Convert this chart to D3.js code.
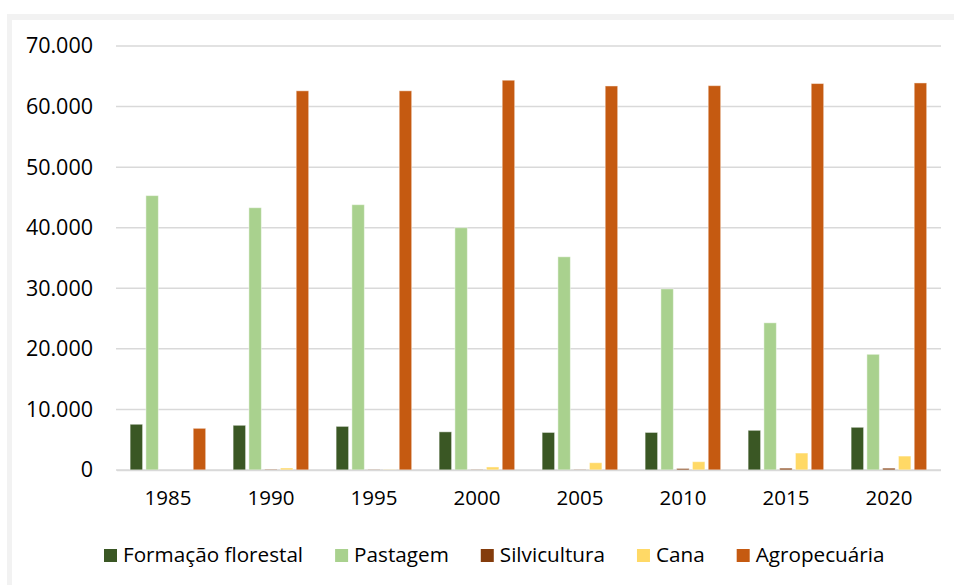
<!DOCTYPE html>
<html lang="pt">
<head>
<meta charset="utf-8">
<style>
  body { margin: 0; background: #fff; }
  text { font-family: "Open Sans", sans-serif; fill: #000; }
</style>
</head>
<body>
<svg width="954" height="585"></svg>
<script src="https://cdnjs.cloudflare.com/ajax/libs/d3/7.8.5/d3.min.js"></script>
<script>
// values (hectares)
var years = ["1985", "1990", "1995", "2000", "2005", "2010", "2015", "2020"];
var seriesNames = ["Formação florestal", "Pastagem", "Silvicultura", "Cana", "Agropecuária"];
var seriesColors = ["#3a5724", "#a9d18e", "#843c0c", "#ffd966", "#c55a11"];
var formacaoFlorestal = [7550, 7380, 7200, 6300, 6200, 6200, 6550, 7050];
var pastagem = [45300, 43300, 43800, 40000, 35200, 29900, 24300, 19100];
var silvicultura = [0, 100, 50, 50, 50, 250, 300, 300];
var cana = [0, 330, 60, 500, 1200, 1370, 2800, 2300];
var agropecuaria = [6880, 62600, 62600, 64350, 63400, 63450, 63800, 63900];
var yTicks = [0, 10000, 20000, 30000, 40000, 50000, 60000, 70000];

var allSeries = [formacaoFlorestal, pastagem, silvicultura, cana, agropecuaria];

var svg = d3.select("svg");

// outer frame like the pasted chart box
svg.append("rect").attr("x", 7).attr("y", 14).attr("width", 960).attr("height", 600).attr("fill", "#f2f2f2");
svg.append("rect").attr("x", 12).attr("y", 20).attr("width", 960).attr("height", 600).attr("fill", "#fff");

var x0 = d3.scaleBand().domain(years).range([116.4, 940.4]).padding(0);
var x1 = d3.scaleBand().domain(seriesNames).range([0, x0.bandwidth()])
    .paddingInner(0.21).paddingOuter(0.87);
var y = d3.scaleLinear().domain([0, 70000]).range([470, 46]);

var fmt = function(v) { return v === 0 ? "0" : d3.format(",")(v).replace(/,/g, "."); };

// gridlines
svg.append("g")
  .selectAll("line")
  .data(yTicks)
  .enter().append("line")
    .attr("x1", 116).attr("x2", 941)
    .attr("y1", function(d) { return y(d); })
    .attr("y2", function(d) { return y(d); })
    .attr("stroke", "#d9d9d9")
    .attr("stroke-width", 1.5);

// y labels
var yAxis = svg.append("g")
    .attr("transform", "translate(116,0)")
    .call(d3.axisLeft(y).tickValues(yTicks).tickFormat(fmt).tickSize(0).tickPadding(23));
yAxis.select(".domain").remove();
yAxis.selectAll("text").attr("font-size", 21.5).attr("font-family", "Open Sans, sans-serif").attr("fill", "#000");

// bars
var groups = svg.append("g")
  .selectAll("g")
  .data(years)
  .enter().append("g")
    .attr("transform", function(d) { return "translate(" + x0(d) + ",0)"; });

groups.selectAll("rect")
  .data(function(d, i) {
    return seriesNames.map(function(s, k) { return { key: s, value: allSeries[k][i], k: k }; });
  })
  .enter().append("rect")
    .attr("x", function(d) { return x1(d.key); })
    .attr("width", x1.bandwidth())
    .attr("y", function(d) { return y(d.value); })
    .attr("height", function(d) { return y(0) - y(d.value); })
    .attr("fill", function(d) { return seriesColors[d.k]; })
    .attr("stroke", "#fff")
    .attr("stroke-opacity", 0.45)
    .attr("stroke-width", 1);

// x axis
var xAxis = svg.append("g")
    .attr("transform", "translate(0," + y(0) + ")")
    .call(d3.axisBottom(x0).tickSize(0).tickPadding(20));
xAxis.select(".domain").attr("stroke", "#d9d9d9").attr("stroke-width", 1.5);
xAxis.selectAll("text").attr("font-size", 20.5).attr("font-family", "Open Sans, sans-serif").attr("fill", "#000");

// legend
var legend = svg.append("g").attr("transform", "translate(104,549)");
var lx = 0;
seriesNames.forEach(function(name, k) {
  var item = legend.append("g").attr("transform", "translate(" + lx + ",0)");
  item.append("rect").attr("width", 13).attr("height", 13).attr("fill", seriesColors[k]);
  var t = item.append("text").attr("x", 19).attr("y", 13).attr("font-size", 20.7).text(name);
  lx += 19 + t.node().getComputedTextLength() + 32;
});
</script>
</body>
</html>
